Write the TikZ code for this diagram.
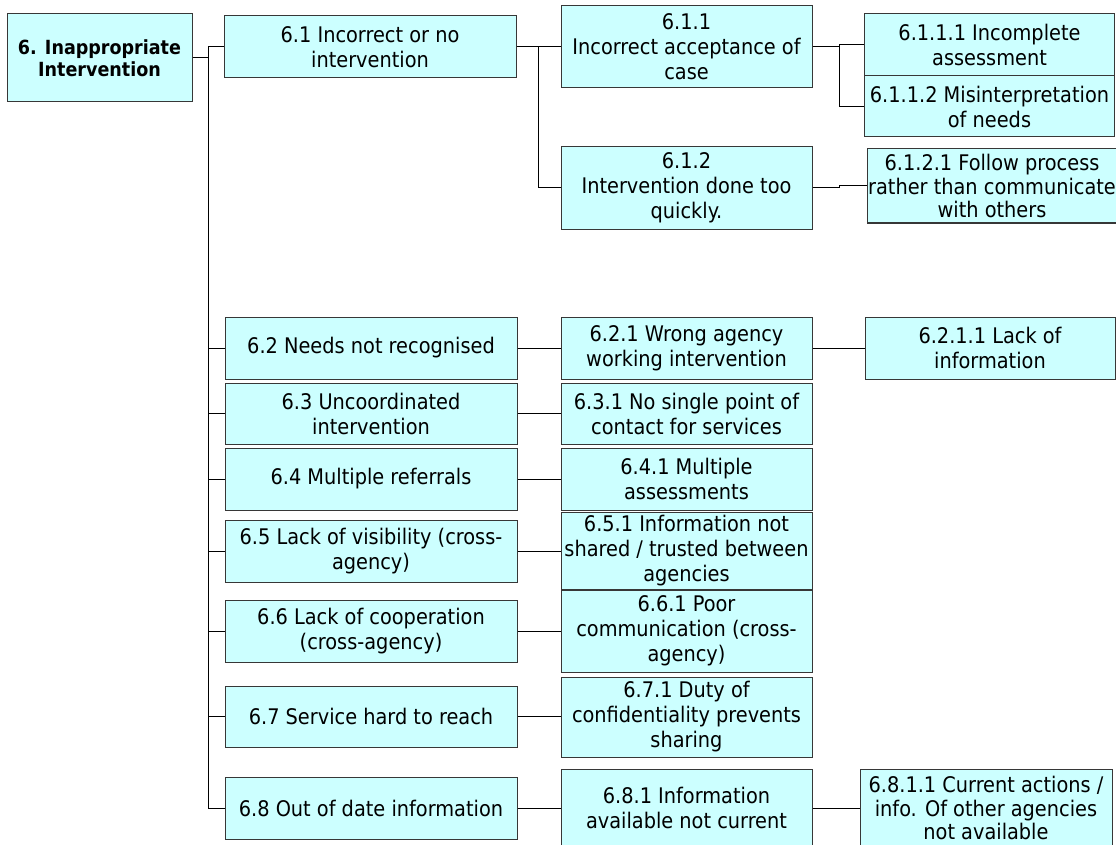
\documentclass[tikz,border=0pt]{standalone}
\usepackage{fontspec}
\setmainfont{DejaVu Sans Condensed}
\usetikzlibrary{positioning,calc}
\definecolor{BoxCyan}{RGB}{204,255,255}
\definecolor{EdgeGray}{RGB}{55,55,55}
\tikzset{
  box/.style={draw=EdgeGray,fill=BoxCyan,line width=1pt,inner sep=0pt,align=center,
    font=\fontsize{21.5}{25}\selectfont},
  top/.style={box,font=\fontsize{19.5}{22}\selectfont\bfseries,minimum width=185pt,minimum height=88pt},
  cause/.style={box,minimum width=292pt},
  sub/.style={box,minimum width=251pt},
  leaf/.style={box,minimum width=250pt},
  link/.style={draw=black,line width=1pt},
}

\begin{document}
\begin{tikzpicture}[x=1pt,y=-1pt]
\useasboundingbox (0,0) rectangle (1116,845);
\coordinate (trunk) at (208,0);
\coordinate (b61) at (538,0);
\coordinate (b611) at (839,0);
% root and first level
\node[top] (root) at (99.5,58) {6. Inappropriate\\Intervention};
\node[cause,minimum height=62pt] (n61) at (370,47) {6.1 Incorrect or no\\intervention};
\node[cause,minimum height=62pt] (n62) at (371,348) {6.2 Needs not recognised};
\node[cause,minimum height=61pt] (n63) at (371,413.5) {6.3 Uncoordinated\\intervention};
\node[cause,minimum height=62pt] (n64) at (371,479) {6.4 Multiple referrals};
\node[cause,minimum height=62pt] (n65) at (371,551) {6.5 Lack of visibility (cross-\\agency)};
\node[cause,minimum height=62pt] (n66) at (371,631) {6.6 Lack of cooperation\\(cross-agency)};
\node[cause,minimum height=61pt] (n67) at (371,716.5) {6.7 Service hard to reach};
\node[cause,minimum height=62pt] (n68) at (371,808) {6.8 Out of date information};
% second level
\node[sub,minimum height=82pt] (n611) at (686.5,47) {6.1.1\\Incorrect acceptance of\\case};
\node[sub,minimum height=82pt] (n612) at (686.5,188) {6.1.2\\Intervention done too\\quickly.};
\node[sub,minimum height=62pt] (n621) at (686.5,348) {6.2.1 Wrong agency\\working intervention};
\node[sub,minimum height=61pt] (n631) at (686.5,413.5) {6.3.1 No single point of\\contact for services};
\node[sub,minimum height=62pt] (n641) at (686.5,479) {6.4.1 Multiple\\assessments};
\node[sub,minimum height=77pt] (n651) at (686.5,550.5) {6.5.1 Information not\\shared / trusted between\\agencies};
\node[sub,minimum height=82pt] (n661) at (686.5,631) {6.6.1 Poor\\communication (cross-\\agency)};
\node[sub,minimum height=80pt] (n671) at (686.5,717) {6.7.1 Duty of\\confidentiality prevents\\sharing};
\node[sub,minimum height=78pt] (n681) at (686.5,808) {6.8.1 Information\\available not current};
% third level
\node[leaf,minimum height=62pt] (n6111) at (989.5,45) {6.1.1.1 Incomplete\\assessment};
\node[leaf,minimum height=61pt] (n6112) at (989.5,106.5) {6.1.1.2 Misinterpretation\\of needs};
\node[leaf,minimum height=74pt,font=\fontsize{21.5}{23.5}\selectfont] (n6121) at (992,186) {6.1.2.1 Follow process\\rather than communicate\\with others};
\node[leaf,minimum height=62pt] (n6211) at (990,348) {6.2.1.1 Lack of\\information};
\node[leaf,minimum height=78pt,minimum width=252pt,font=\fontsize{21.5}{23.5}\selectfont] (n6811) at (986,808) {6.8.1.1 Current actions /\\info. Of other agencies\\not available};
% connectors
\draw[link] (root.east) -- (root.east -| trunk);
\draw[link] (n61.west) -- (n61.west -| trunk) |- (n68.west);
\draw[link] (n62.west) -- (n62.west -| trunk);
\draw[link] (n63.west) -- (n63.west -| trunk);
\draw[link] (n64.west) -- (n64.west -| trunk);
\draw[link] (n65.west) -- (n65.west -| trunk);
\draw[link] (n66.west) -- (n66.west -| trunk);
\draw[link] (n67.west) -- (n67.west -| trunk);
\draw[link] (n61.east) -- (n611.west);
\draw[link] (n61.east -| b61) |- (n612.west);
\draw[link] (n611.east) -- (n611.east -| b611) |- (n6111.west);
\draw[link] (n611.east -| b611) |- (n6112.west);
\draw[link] (n612.east) -- (n612.east -| b611) |- (n6121.west);
\draw[link] (n62.east) -- (n621.west);
\draw[link] (n621.east) -- (n6211.west);
\draw[link] (n63.east) -- (n63.east -| n631.west);
\draw[link] (n64.east) -- (n64.east -| n641.west);
\draw[link] (n65.east) -- (n65.east -| n651.west);
\draw[link] (n66.east) -- (n66.east -| n661.west);
\draw[link] (n67.east) -- (n67.east -| n671.west);
\draw[link] (n68.east) -- (n681.west);
\draw[link] (n681.east) -- (n681.east -| n6811.west);
\end{tikzpicture}
\end{document}
